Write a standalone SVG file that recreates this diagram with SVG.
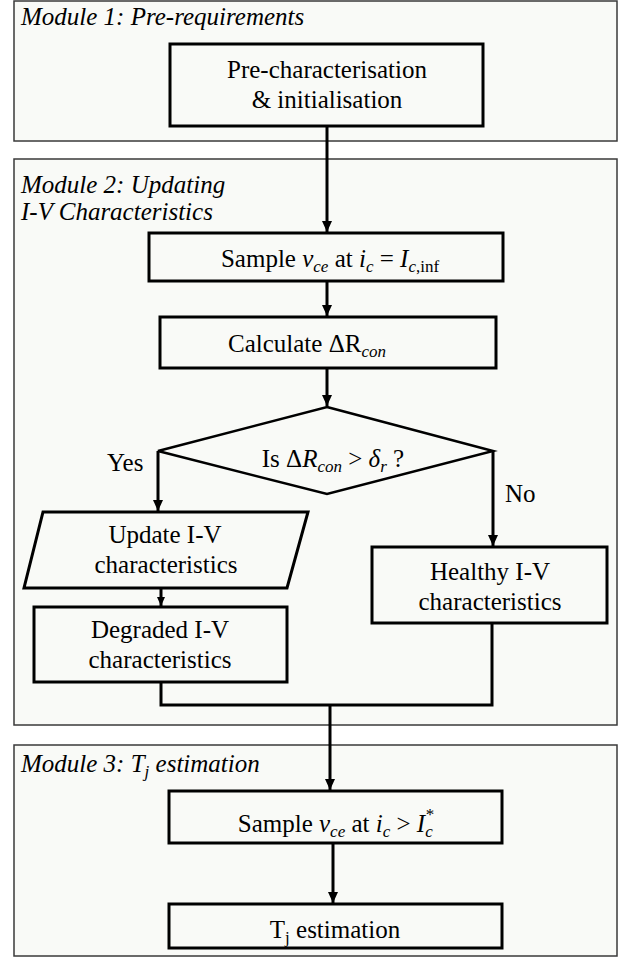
<svg xmlns="http://www.w3.org/2000/svg" width="622" height="957" viewBox="0 0 622 957">
<defs>
<marker id="arr" markerUnits="userSpaceOnUse" markerWidth="12" markerHeight="10" refX="11" refY="5" orient="auto">
<path d="M0,0 L11,5 L0,10 z" fill="#000"/>
</marker>
<marker id="arrs" markerUnits="userSpaceOnUse" markerWidth="10" markerHeight="8" refX="9" refY="4" orient="auto">
<path d="M0,0 L9,4 L0,8 z" fill="#000"/>
</marker>
<style>
.module{fill:#f9faf7;stroke:#3a3a3a;stroke-width:1.5}
.node{fill:#f9faf7;stroke:#000;stroke-width:3}
.dec{fill:#f9faf7;stroke:#000;stroke-width:2.5}
.t{font-size:25px}
.c{text-anchor:middle}
.lbl{font-size:25px;font-style:italic}
.i{font-style:italic}
.s{font-size:17px}
.conn{fill:none;stroke:#000;stroke-width:3}
</style>
</defs>
<rect width="622" height="957" fill="#ffffff"/>
<g id="module1">
<rect class="module" x="14" y="1" width="603" height="140"/>
<text class="lbl" x="21" y="25" font-family="Liberation Serif">Module 1: Pre-requirements</text>
</g>
<g id="module2">
<rect class="module" x="14" y="159" width="603" height="566"/>
<text class="lbl" x="21" y="193" font-family="Liberation Serif">Module 2: Updating</text>
<text class="lbl" x="21" y="220" font-family="Liberation Serif">I-V Characteristics</text>
</g>
<g id="module3">
<rect class="module" x="14" y="745" width="603" height="211"/>
<text class="lbl" x="21" y="772" font-family="Liberation Serif">Module 3: T<tspan class="s" dy="5">j</tspan><tspan dy="-5"> estimation</tspan></text>
</g>
<g id="precharacterisation">
<rect class="node" x="170" y="44" width="313" height="82"/>
<text class="t c" x="327" y="78" font-family="Liberation Serif">Pre-characterisation</text>
<text class="t c" x="327" y="108" font-family="Liberation Serif">&amp; initialisation</text>
</g>
<g id="sample1">
<rect class="node" x="149" y="233" width="354" height="48"/>
<text class="t c" x="330" y="267" font-family="Liberation Serif">Sample <tspan class="i">v</tspan><tspan class="i s" dy="5">ce</tspan><tspan dy="-5"> at </tspan><tspan class="i">i</tspan><tspan class="i s" dy="5">c</tspan><tspan dy="-5"> = </tspan><tspan class="i">I</tspan><tspan class="s" dy="5"><tspan class="i">c</tspan>,inf</tspan></text>
</g>
<g id="calculate">
<rect class="node" x="160" y="317" width="336" height="51"/>
<text class="t" x="228" y="352" font-family="Liberation Serif">Calculate  ΔR<tspan class="i s" dy="5">con</tspan></text>
</g>
<g id="decision">
<polygon class="dec" points="327,407 493,451 327,494 158,451"/>
<text class="t c" x="333" y="467" font-family="Liberation Serif">Is Δ<tspan class="i">R</tspan><tspan class="i s" dy="5">con</tspan><tspan dy="-5"> &gt; </tspan><tspan class="i">δ</tspan><tspan class="i s" dy="5">r</tspan><tspan dy="-5"> ?</tspan></text>
</g>
<g id="update">
<polygon class="node" points="43,512 308,512 287,588 24,588"/>
<text class="t c" x="165" y="543" font-family="Liberation Serif">Update I-V</text>
<text class="t c" x="166" y="573" font-family="Liberation Serif">characteristics</text>
</g>
<g id="degraded">
<rect class="node" x="34" y="607" width="253" height="75"/>
<text class="t c" x="160" y="638" font-family="Liberation Serif">Degraded I-V</text>
<text class="t c" x="160" y="668" font-family="Liberation Serif">characteristics</text>
</g>
<g id="healthy">
<rect class="node" x="372" y="547" width="235" height="76"/>
<text class="t c" x="490" y="580" font-family="Liberation Serif">Healthy  I-V</text>
<text class="t c" x="490" y="610" font-family="Liberation Serif">characteristics</text>
</g>
<g id="sample2">
<rect class="node" x="169" y="791" width="333" height="52"/>
<text class="t c" x="336" y="832" font-family="Liberation Serif">Sample <tspan class="i">v</tspan><tspan class="i s" dy="5">ce</tspan><tspan dy="-5"> at </tspan><tspan class="i">i</tspan><tspan class="i s" dy="5">c</tspan><tspan dy="-5"> &gt; </tspan><tspan class="i">I</tspan><tspan class="i s" dy="5">c</tspan><tspan class="s" dx="-7" dy="-17">*</tspan></text>
</g>
<g id="tj">
<rect class="node" x="169" y="904" width="333" height="44"/>
<text class="t c" x="335" y="938" font-family="Liberation Serif">T<tspan class="s" dy="5">j</tspan><tspan dy="-5"> estimation</tspan></text>
</g>
<g id="connectors">
<line class="conn" x1="327" y1="126" x2="327" y2="232" marker-end="url(#arr)"/>
<line class="conn" x1="327" y1="281" x2="327" y2="316" marker-end="url(#arr)"/>
<line class="conn" x1="327" y1="368" x2="327" y2="406" marker-end="url(#arr)"/>
<polyline class="conn" points="158,451 158,511" marker-end="url(#arr)"/>
<polyline class="conn" points="493,451 493,546" marker-end="url(#arr)"/>
<text class="t" x="107" y="471" font-family="Liberation Serif">Yes</text>
<text class="t" x="505" y="502" font-family="Liberation Serif">No</text>
<line class="conn" x1="161" y1="588" x2="161" y2="606" marker-end="url(#arrs)"/>
<polyline class="conn" points="161,682 161,705 492,705 492,623"/>
<line class="conn" x1="330" y1="705" x2="330" y2="790" marker-end="url(#arr)"/>
<line class="conn" x1="333" y1="843" x2="333" y2="903" marker-end="url(#arr)"/>
</g>
</svg>
